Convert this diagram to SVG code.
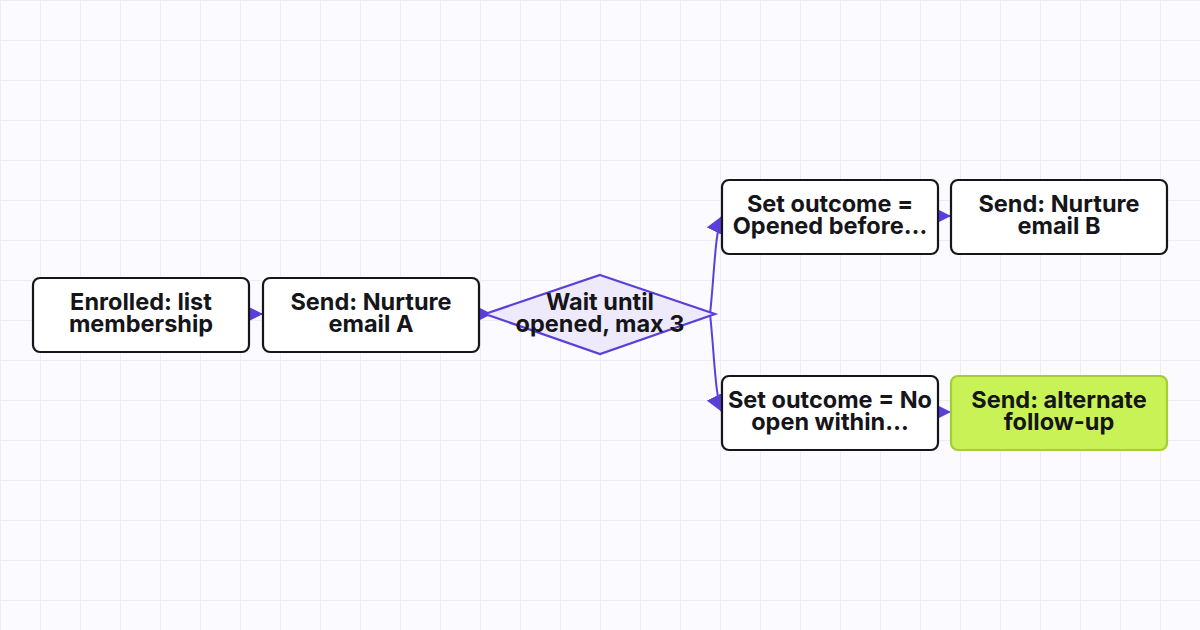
<svg xmlns="http://www.w3.org/2000/svg" width="1200" height="630" viewBox="0 0 1200 630">
<defs>
<pattern id="g" width="40" height="40" patternUnits="userSpaceOnUse"><path d="M0 0H40M0 0V40" stroke="#ecebf7" stroke-width="2" fill="none"/></pattern>
<marker id="a" viewBox="0 0 10 10" refX="10" refY="5" markerWidth="17" markerHeight="17" markerUnits="userSpaceOnUse" orient="auto"><path d="M0 0L10 5L0 10Z" fill="#5b3fd9"/></marker>
<style>
.b{fill:#fff;stroke:#15151a;stroke-width:2.2}
.t{font-family:Inter,"Liberation Sans",sans-serif;font-weight:700;font-size:23.5px;fill:#15151a;text-anchor:middle}
.c{fill:none;stroke:#5b3fd9;stroke-width:2;marker-end:url(#a)}
</style>
</defs>
<rect width="1200" height="630" fill="#fafaff"/>
<rect width="1200" height="630" fill="url(#g)"/>
<g id="connectors">
<path class="c" d="M249 314H263"/>
<path class="c" d="M479 314H492"/>
<path class="c" d="M710 314C714 280 715 230 722 216"/>
<path class="c" d="M710 314C714 348 715 398 722 412"/>
<path class="c" d="M938 216H951"/>
<path class="c" d="M938 412H951"/>
</g>
<g id="n1"><rect class="b" x="33" y="278" width="216" height="74" rx="7"/><text class="t" x="141" y="310">Enrolled: list</text><text class="t" x="141" y="332">membership</text></g>
<g id="n2"><rect class="b" x="263" y="278" width="216" height="74" rx="7"/><text class="t" x="371" y="310">Send: Nurture</text><text class="t" x="371" y="332">email A</text></g>
<g id="n3"><path d="M600 275L715 314L600 354L485 314Z" fill="#eeeafc" stroke="#5b3fd9" stroke-width="2.2"/><text class="t" x="600" y="310">Wait until</text><text class="t" x="600" y="332">opened, max 3</text></g>
<g id="n4"><rect class="b" x="722" y="180" width="216" height="74" rx="7"/><text class="t" x="830" y="212">Set outcome =</text><text class="t" x="830" y="234">Opened before…</text></g>
<g id="n5"><rect class="b" x="951" y="180" width="216" height="74" rx="7"/><text class="t" x="1059" y="212">Send: Nurture</text><text class="t" x="1059" y="234">email B</text></g>
<g id="n6"><rect class="b" x="722" y="376" width="216" height="74" rx="7"/><text class="t" x="830" y="408">Set outcome = No</text><text class="t" x="830" y="430">open within…</text></g>
<g id="n7"><rect x="951" y="376" width="216" height="74" rx="7" fill="#c8f255" stroke="#a3cc35" stroke-width="2.2"/><text class="t" x="1059" y="408">Send: alternate</text><text class="t" x="1059" y="430">follow-up</text></g>
</svg>
